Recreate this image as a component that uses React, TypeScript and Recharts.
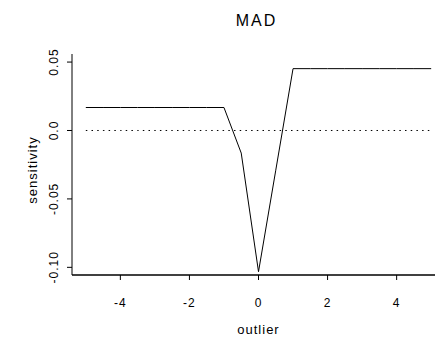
import React from 'react';
import { LineChart, Line, XAxis, YAxis, Label } from 'recharts';

// values
const outlier = [-5, -4.5, -4, -3.5, -3, -2.5, -2, -1.5, -1, -0.5, 0, 0.5, 1, 1.5, 2, 2.5, 3, 3.5, 4, 4.5, 5];
const sensitivity = [
  0.0168, 0.0168, 0.0168, 0.0168, 0.0168, 0.0168, 0.0168, 0.0168, 0.0168,
  -0.0165, -0.1032, -0.029,
  0.0452, 0.0452, 0.0452, 0.0452, 0.0452, 0.0452, 0.0452, 0.0452, 0.0452,
];
const zeroLine = outlier.map(() => 0);

const xTicks = [-4, -2, 0, 2, 4];
const yTicks = [-0.1, -0.05, 0, 0.05];
const yTickLabels = ['-0.10', '-0.05', '0.0', '0.05'];

const data = outlier.map((x, i) => ({ x, s: sensitivity[i], zero: zeroLine[i] }));

const FONT = '"Liberation Sans", Arial, sans-serif';

const XTick = (props: any) => {
  const { x, y, payload } = props;
  return (
    <text x={x} y={y + 24.5} textAnchor="middle" fontSize={12} fill="#000" fontFamily={FONT} letterSpacing={1}>
      {payload.value}
    </text>
  );
};

const YTick = (props: any) => {
  const { x, y, payload } = props;
  const idx = yTicks.indexOf(payload.value);
  const bx = x - 6.5;
  return (
    <text x={bx} y={y} transform={`rotate(-90, ${bx}, ${y})`} textAnchor="middle" fontSize={12} fill="#000" fontFamily={FONT} letterSpacing={1}>
      {idx >= 0 ? yTickLabels[idx] : payload.value}
    </text>
  );
};

export default function App() {
  return (
    <div style={{ position: 'absolute', left: 0, top: 0, width: 435, height: 342, overflow: 'hidden', background: '#fff' }}>
      {/* title, centred over the plot region */}
      <svg width={435} height={40} style={{ position: 'absolute', left: 0, top: 0 }}>
        <text x={256.5} y={26} textAnchor="middle" fontSize={16} fill="#000" fontFamily={FONT} letterSpacing={2}>
          MAD
        </text>
      </svg>
      <LineChart width={450} height={342} data={data} margin={{ top: 54, right: 5, bottom: 0, left: 0 }}>
        <XAxis
          dataKey="x"
          type="number"
          domain={[-5.4, 5.4]}
          ticks={xTicks}
          height={67}
          tickSize={5}
          tickMargin={2}
          tick={<XTick />}
          tickLine={{ stroke: '#000' }}
          axisLine={{ stroke: '#000', strokeWidth: 1.5 }}
        >
          <Label
            content={(p: any) => (
              <text x={p.viewBox.x + p.viewBox.width / 2} y={p.viewBox.y + 59.3} textAnchor="middle" fontSize={13} fill="#000" fontFamily={FONT} letterSpacing={1}>
                outlier
              </text>
            )}
          />
        </XAxis>
        <XAxis
          xAxisId="top"
          orientation="top"
          dataKey="x"
          type="number"
          domain={[-5.4, 5.4]}
          height={0}
          tick={false}
          tickLine={false}
          axisLine={{ stroke: '#000' }}
        />
        <YAxis
          type="number"
          domain={[-0.1056, 0.0559]}
          ticks={yTicks}
          width={72}
          tickSize={5}
          tickMargin={2}
          tick={<YTick />}
          tickLine={{ stroke: '#000' }}
          axisLine={{ stroke: '#000' }}
        >
          <Label
            content={(p: any) => {
              const bx = p.viewBox.x + 37;
              const cy = p.viewBox.y + p.viewBox.height / 2 + 5.5;
              return (
                <text x={bx} y={cy} transform={`rotate(-90, ${bx}, ${cy})`} textAnchor="middle" fontSize={13} fill="#000" fontFamily={FONT} letterSpacing={1}>
                  sensitivity
                </text>
              );
            }}
          />
        </YAxis>
        <Line dataKey="zero" stroke="#000" strokeWidth={1} strokeDasharray="1.5 4.2" dot={false} isAnimationActive={false} />
        <Line dataKey="s" stroke="#000" strokeWidth={1} dot={false} isAnimationActive={false} />
      </LineChart>
    </div>
  );
}
